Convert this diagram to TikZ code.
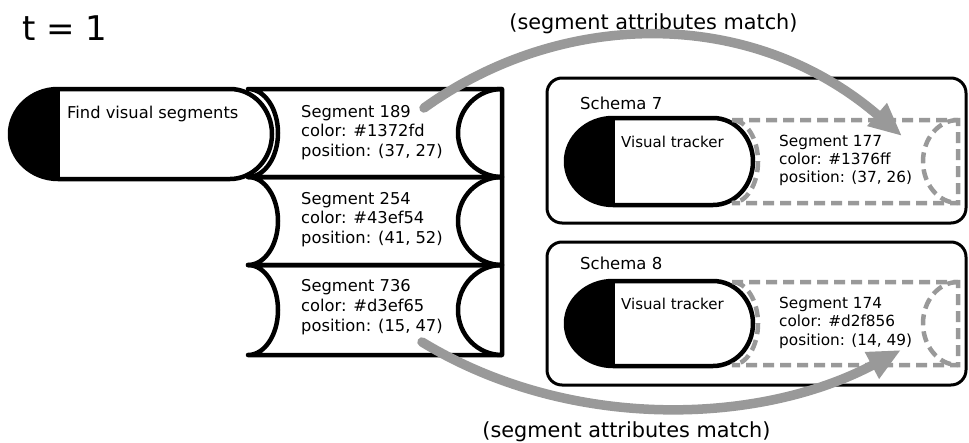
\documentclass[tikz,border=0pt]{standalone}
\usepackage{fontspec}
\setmainfont{DejaVu Sans}
\usetikzlibrary{arrows.meta}
\definecolor{linkgray}{RGB}{153,153,153}
\begin{document}
\begin{tikzpicture}[x=1pt,y=-1pt,
  outline/.style={draw=black, line width=4.5pt, line join=round},
  ghost/.style={draw=linkgray, line width=4.5pt, dash pattern=on 11pt off 6pt},
  schemabox/.style={draw=black, line width=3pt, rounded corners=15pt},
  plaintext/.style={anchor=north west, inner sep=0pt, align=left},
  segtext/.style={plaintext, font=\fontsize{16.3}{19.6}\selectfont},
  subtext/.style={plaintext, font=\fontsize{15.3}{18.4}\selectfont},
  labeltext/.style={plaintext, font=\fontsize{16.5}{19.8}\selectfont},
  trackertext/.style={plaintext, font=\fontsize{15}{18}\selectfont},
  matchlabel/.style={anchor=base, inner sep=0pt, font=\fontsize{20.8}{25}\selectfont},
  linkarrow/.style={draw=linkgray, line width=9.5pt, line cap=round,
    -{Triangle[length=33pt,width=28pt]}}
]
\useasboundingbox (0,0) rectangle (969,442);

% ---- time stamp
\node[anchor=base west, inner sep=0pt, font=\fontsize{34}{40}\selectfont] (time) at (22,40) {t = 1};

% ---- schema frames
\draw[schemabox] (547,78) rectangle (966,223);
\draw[schemabox] (547,242) rectangle (966,385);

% ---- "Find visual segments" capsule
\fill[black] (58,89) arc[start angle=270, end angle=90, x radius=48, y radius=45] -- cycle;
\draw[outline] (58,89) -- (230,89)
  arc[start angle=-90, end angle=90, x radius=42, y radius=45]
  -- (58,179) arc[start angle=90, end angle=270, x radius=48, y radius=45] -- cycle;
\draw[outline] (58,89) -- (58,179);

% ---- stack of segments
\foreach \t/\b in {89/177, 177/265, 265/355}{
  \pgfmathsetmacro{\ry}{(\b-\t)/2}
  \draw[outline] (248,\t) -- (502,\t) -- (502,\b) -- (248,\b)
    arc[start angle=90, end angle=-90, x radius=30, y radius=\ry] -- cycle;
  \draw[outline] (502,\t) arc[start angle=-90, end angle=-270, x radius=44, y radius=\ry];
}

% ---- visual trackers with their matched segments
\foreach \t/\b/\dt/\db in {118/205/120/203, 281/366/282/365}{
  \pgfmathsetmacro{\ry}{(\b-\t)/2}
  \pgfmathsetmacro{\dry}{(\db-\dt)/2}
  \fill[black] (613,\t) arc[start angle=270, end angle=90, x radius=47, y radius=\ry] -- cycle;
  \draw[outline] (613,\t) -- (713,\t)
    arc[start angle=-90, end angle=90, x radius=40, y radius=\ry]
    -- (613,\b) arc[start angle=90, end angle=270, x radius=47, y radius=\ry] -- cycle;
  \draw[outline] (613,\t) -- (613,\b);
  \draw[ghost] (732,\dt) -- (958,\dt) -- (958,\db) -- (732,\db)
    arc[start angle=90, end angle=-90, x radius=26, y radius=\dry] -- cycle;
  \draw[ghost] (958,\dt) arc[start angle=-90, end angle=-270, x radius=35, y radius=\dry];
}

% ---- texts
\node[segtext] (find) at (67,106) {Find visual segments};
\node[segtext] (s189) at (301,105) {Segment 189\\color: \#1372fd\\position: (37, 27)};
\node[segtext] (s254) at (301,192) {Segment 254\\color: \#43ef54\\position: (41, 52)};
\node[segtext] (s736) at (301,279.5) {Segment 736\\color: \#d3ef65\\position: (15, 47)};

\node[labeltext] (sch7) at (580,97) {Schema 7};
\node[labeltext] (sch8) at (580,257) {Schema 8};
\node[trackertext] (vt7) at (621,136) {Visual tracker};
\node[trackertext] (vt8) at (621,298) {Visual tracker};
\node[subtext] (s177) at (779,134.5) {Segment 177\\color: \#1376ff\\position: (37, 26)};
\node[subtext] (s174) at (779,297) {Segment 174\\color: \#d2f856\\position: (14, 49)};

\node[matchlabel] (match1) at (653.5,29) {(segment attributes match)};
\node[matchlabel] (match2) at (626.5,437.5) {(segment attributes match)};

% ---- matching links
\coordinate (from189) at (424,108);
\coordinate (to177) at (902,136);
\coordinate (from736) at (422,342);
\coordinate (to174) at (901,350);
\draw[linkarrow] (from189) .. controls (560,10) and (750,5) .. (to177);
\draw[linkarrow] (from736) .. controls (570,432) and (760,425) .. (to174);
\end{tikzpicture}
\end{document}
